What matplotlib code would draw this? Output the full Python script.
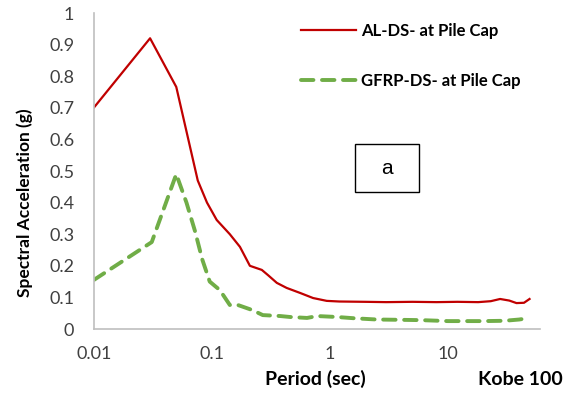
import matplotlib
matplotlib.use("Agg")
import matplotlib.pyplot as plt
from matplotlib.patches import Rectangle

period_al = [0.01, 0.03, 0.05, 0.076, 0.091, 0.11, 0.142, 0.173, 0.21, 0.265, 0.3, 0.355, 0.43,
             0.56, 0.72, 0.94, 1.2, 2.0, 3.0, 5.0, 8.0, 12.0, 18.0, 23.0, 27.6, 33.0, 38.0, 44.0, 49.0]
sa_al = [0.70, 0.92, 0.766, 0.47, 0.40, 0.345, 0.30, 0.26, 0.20, 0.187, 0.17, 0.146, 0.13,
         0.114, 0.098, 0.089, 0.087, 0.086, 0.085, 0.086, 0.085, 0.086, 0.085, 0.088, 0.095, 0.09,
         0.082, 0.083, 0.095]

period_gfrp = [0.01, 0.031, 0.05, 0.054, 0.061, 0.072, 0.083, 0.096, 0.117, 0.142, 0.166, 0.22,
               0.27, 0.38, 0.46, 0.64, 0.78, 1.15, 1.6, 2.5, 4.0, 6.0, 10.0, 15.0, 20.0, 30.0,
               40.0, 49.0]
sa_gfrp = [0.155, 0.275, 0.49, 0.455, 0.40, 0.31, 0.22, 0.15, 0.123, 0.076, 0.076, 0.06,
           0.044, 0.041, 0.038, 0.035, 0.041, 0.038, 0.034, 0.03, 0.029, 0.028, 0.025, 0.025,
           0.025, 0.026, 0.03, 0.035]

label_al = "AL-DS- at Pile Cap"
label_gfrp = "GFRP-DS- at Pile Cap"

plt.rcParams["font.family"] = ["Lato", "DejaVu Sans"]

fig = plt.figure(figsize=(5.75, 4), dpi=100)
ax = fig.add_axes([0.163, 0.1775, 0.776, 0.79])

ax.plot(period_al, sa_al, color="#C00000", linewidth=1.6, label=label_al)
ax.plot(period_gfrp, sa_gfrp, color="#70AD47", linewidth=2.8, linestyle=(0, (3.2, 2.2)),
        dash_capstyle="round", label=label_gfrp)

ax.set_xscale("log")
ax.set_xlim(0.01, 60)
ax.set_ylim(0, 1)
ax.set_xticks([0.01, 0.1, 1, 10])
ax.set_xticklabels(["0.01", "0.1", "1", "10"])
ax.xaxis.set_minor_locator(matplotlib.ticker.NullLocator())
ax.set_yticks([i / 10 for i in range(11)])
ax.set_yticklabels(["0", "0.1", "0.2", "0.3", "0.4", "0.5", "0.6", "0.7", "0.8", "0.9", "1"])
ax.tick_params(length=0, labelsize=13, colors="#404040")
ax.tick_params(axis="y", pad=14)
ax.tick_params(axis="x", pad=12)

for s in ["top", "right"]:
    ax.spines[s].set_visible(False)
for s in ["left", "bottom"]:
    ax.spines[s].set_color("#BFBFBF")
    ax.spines[s].set_linewidth(1.2)

ax.set_ylabel("Spectral Acceleration (g)", fontsize=12.5, fontweight="bold")
ax.yaxis.set_label_coords(-0.135, 0.40)
fig.text(0.548, 0.03, "Period (sec)", fontsize=14, fontweight="bold", ha="center", va="bottom")
fig.text(0.978, 0.03, "Kobe 100", fontsize=14, fontweight="bold", ha="right", va="bottom")

leg = ax.legend(loc="upper left", bbox_to_anchor=(0.43, 1.015), frameon=False, fontsize=12,
                handlelength=3.3, handletextpad=0.35, labelspacing=2.0)
for t in leg.get_texts():
    t.set_fontweight("bold")

ax.add_patch(Rectangle((0.585, 0.433), 0.1435, 0.152, transform=ax.transAxes,
                       facecolor="white", edgecolor="black", linewidth=1, zorder=3))
ax.text(0.657, 0.509, "a", transform=ax.transAxes, fontsize=15, family="Liberation Sans",
        ha="center", va="center", zorder=4)

fig.savefig("out.png", dpi=100)
